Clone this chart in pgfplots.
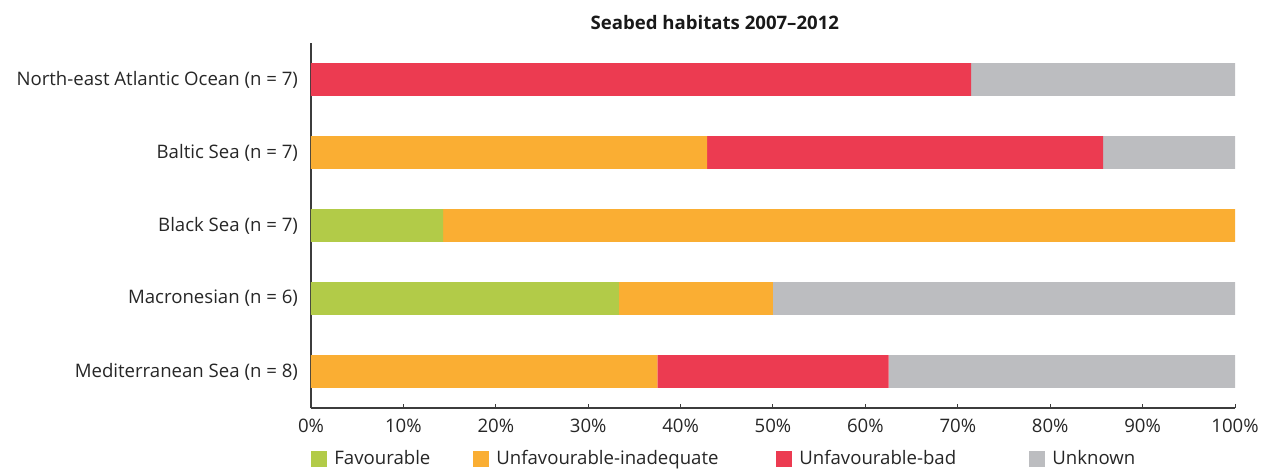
\documentclass[border=0pt]{standalone}
\usepackage{pgfplots}
\pgfplotsset{compat=1.18}
\usepackage{pgfplotstable}
\usepackage{fontspec}
\setmainfont{Open Sans}
\definecolor{fav}{RGB}{178,203,72}
\definecolor{inad}{RGB}{250,174,51}
\definecolor{bad}{RGB}{236,59,81}
\definecolor{unk}{RGB}{188,189,192}
\definecolor{axgray}{RGB}{60,60,60}
% share in % of assessments; y: 4 = top row
\pgfplotstableread{
y fav inad bad unk
4 0 0 71.43 28.57
3 0 42.86 42.86 14.28
2 14.29 85.71 0 0
1 33.33 16.67 0 50
0 0 37.5 25 37.5
}\seabed
\newcommand{\fs}{\fontsize{9.3pt}{11pt}\selectfont}
\begin{document}
\begin{tikzpicture}
\path[use as bounding box] (-155.5pt,-30pt) rectangle (482pt,204pt);
\begin{axis}[
  scale only axis,
  width=462pt, height=182.5pt,
  xbar stacked,
  bar width=0.45,
  xmin=0, xmax=100,
  ymin=-0.5, ymax=4.5,
  axis x line*=bottom, axis y line*=left,
  axis line style={axgray, line width=0.6pt},
  xtick={0,10,...,100},
  xticklabels={0\%,10\%,20\%,30\%,40\%,50\%,60\%,70\%,80\%,90\%,100\%},
  xtick style={axgray, line width=0.5pt},
  major tick length=2pt,
  tick align=inside,
  ytick={0,1,2,3,4},
  yticklabels={Mediterranean Sea (n = 8),Macronesian (n = 6),Black Sea (n = 7),Baltic Sea (n = 7),North-east Atlantic Ocean (n = 7)},
  ytick style={draw=none},
  extra y ticks={-0.5,0.5,1.5,2.5,3.5,4.5},
  extra y tick labels={},
  extra y tick style={tick align=outside, major tick length=2pt, tick style={draw=axgray, line width=0.5pt}},
  yticklabel style={font=\fs, text=black!85},
  xticklabel style={font=\fs, text=black!85},
  /pgf/number format/assume math mode=true,
  yticklabel shift=3pt,
  xticklabel shift=2pt,
  title={\bfseries Seabed habitats 2007–2012},
  title style={at={(0.437,1)}, anchor=center, yshift=4pt, font=\fs, text=black!90},
  legend style={at={(0,-0.14)}, anchor=west, draw=none, legend columns=4,
    inner sep=0pt, font=\fs, text=black!85,
    /tikz/every odd column/.append style={column sep=1.5pt}},
  legend image code/.code={\fill[#1] (0pt,-4pt) rectangle (8pt,4pt);},
  every axis plot/.append style={draw=none},
]
\addplot[fill=fav] table[x=fav, y=y] {\seabed};
\addplot[fill=inad] table[x=inad, y=y] {\seabed};
\addplot[fill=bad] table[x=bad, y=y] {\seabed};
\addplot[fill=unk] table[x=unk, y=y] {\seabed};
\legend{\makebox[67.5pt][l]{Favourable},\makebox[138pt][l]{Unfavourable-inadequate},\makebox[113pt][l]{Unfavourable-bad},Unknown}
\end{axis}
\end{tikzpicture}
\end{document}
